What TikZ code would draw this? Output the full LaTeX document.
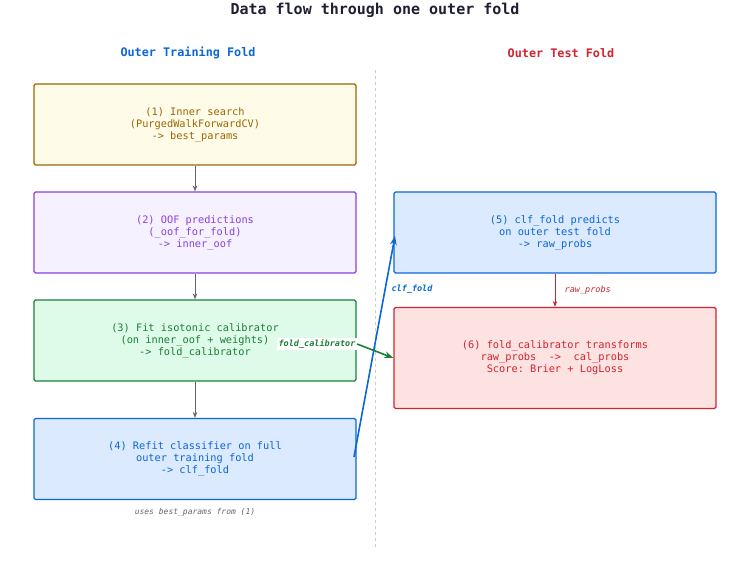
\documentclass[tikz,border=0pt]{standalone}
\usepackage{fontspec}
\setmonofont{DejaVu Sans Mono}
\usetikzlibrary{arrows.meta}
\definecolor{cy}{HTML}{9C6500}\definecolor{fy}{HTML}{FEFBE8}
\definecolor{cp}{HTML}{8A3FE0}\definecolor{fp}{HTML}{F5F1FF}
\definecolor{cg}{HTML}{1A7F37}\definecolor{fg}{HTML}{DDFBE8}
\definecolor{cb}{HTML}{0B66D8}\definecolor{fb}{HTML}{DBEAFE}
\definecolor{cr}{HTML}{D1242F}\definecolor{fr}{HTML}{FDE2E2}
\definecolor{ct}{HTML}{1F1F33}
\begin{document}
\begin{tikzpicture}[x=1pt,y=-1pt, font=\ttfamily\fontsize{10.3}{12}\selectfont,
		box_style/.style={draw, line width=1.2pt, rounded corners=1.5pt, minimum width=322pt, minimum height=81pt, align=center},
		edge_style/.style={draw=black!60, -{Stealth[length=6pt]}, line width=0.8pt},
		lab_style/.style={font=\ttfamily\itshape\bfseries\fontsize{8.5}{10}\selectfont}]
		\useasboundingbox (0,0) rectangle (750,580);
		\node[font=\ttfamily\bfseries\fontsize{15}{17}\selectfont, text=ct] (title) at (375,10) {Data flow through one outer fold};
		\node[font=\ttfamily\bfseries\fontsize{11.8}{13}\selectfont, text=cb] (hl) at (188,53) {Outer Training Fold};
		\node[font=\ttfamily\bfseries\fontsize{11.8}{13}\selectfont, text=cr] (hr) at (561,53) {Outer Test Fold};
		\draw[black!20, dashed, line width=0.8pt] (375,70) -- (375,548);

		\node[box_style, draw=cy, fill=fy, text=cy] (n1) at (195,124.5) {(1) Inner search\\(PurgedWalkForwardCV)\\-> best\_params};
		\node[box_style, draw=cp, fill=fp, text=cp] (n2) at (195,232.5) {(2) OOF predictions\\(\_oof\_for\_fold)\\-> inner\_oof};
		\node[box_style, draw=cg, fill=fg, text=cg] (n3) at (195,340.5) {(3) Fit isotonic calibrator\\(on inner\_oof + weights)\\-> fold\_calibrator};
		\node[box_style, draw=cb, fill=fb, text=cb] (n4) at (195,459) {(4) Refit classifier on full\\outer training fold\\-> clf\_fold};
		\node[box_style, draw=cb, fill=fb, text=cb] (n5) at (555,232.5) {(5) clf\_fold predicts\\on outer test fold\\-> raw\_probs};
		\node[box_style, draw=cr, fill=fr, text=cr, minimum height=101pt] (n6) at (555,358) {(6) fold\_calibrator transforms\\raw\_probs~~->~~cal\_probs\\Score: Brier + LogLoss};
		\node[font=\ttfamily\itshape\fontsize{8}{9}\selectfont, text=black!60] (note) at (195,512) {uses best\_params from (1)};

		\draw[edge_style] (n1) -- (n2);
		\draw[edge_style] (n2) -- (n3);
		\draw[edge_style] (n3) -- (n4);
		\draw[edge_style, draw=cr] (n5) -- node[text=cr, right=6pt, font=\ttfamily\itshape\fontsize{8.5}{10}\selectfont] {raw\_probs} (n6);
		\coordinate (c4) at (354,457);
		\coordinate (c5) at (395,236);
		\draw[draw=cb, line width=1.6pt, -{Stealth[length=9pt]}] (c4) -- (c5);
		\node[lab_style, text=cb] (lclf) at (412,289) {clf\_fold};
		\node[lab_style, text=cg, fill=white, inner sep=1.5pt] (lcal) at (317,344) {fold\_calibrator};
		\draw[draw=cg, line width=1.6pt, -{Stealth[length=9pt]}] (lcal.east) -- (n6.west);
\end{tikzpicture}
\end{document}
